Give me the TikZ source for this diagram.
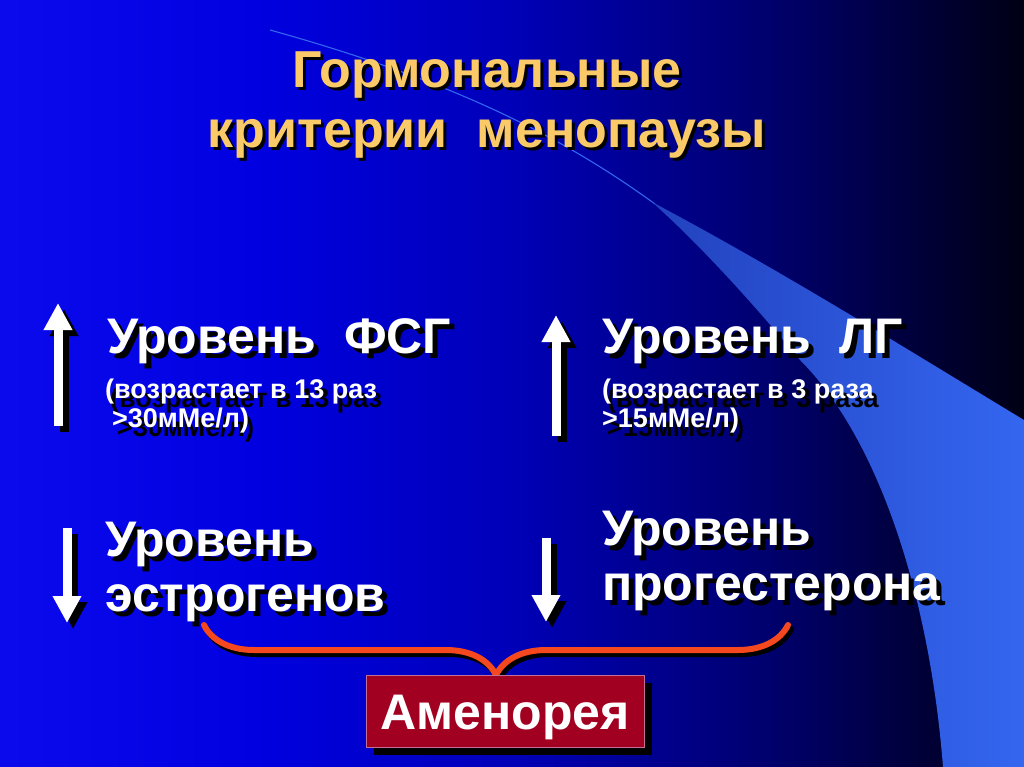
\documentclass[tikz,border=0pt]{standalone}
\usepackage{fontspec}
\setmainfont{Liberation Sans}
\usepackage{xcolor}
\usetikzlibrary{arrows.meta, decorations.pathreplacing, shadows}

\definecolor{swoosh}{RGB}{52,102,240}
\definecolor{swooshdark}{RGB}{34,66,190}
\definecolor{titlegold}{RGB}{250,202,105}
\definecolor{bracered}{RGB}{245,72,30}
\definecolor{boxred}{RGB}{162,0,32}
\definecolor{boxedge}{RGB}{195,110,150}
\pgfdeclarehorizontalshading{slidebg}{100bp}{rgb(0bp)=(0.04,0.04,0.93); rgb(25bp)=(0.04,0.04,0.93); rgb(37.5bp)=(0,0,0.88); rgb(50bp)=(0,0,0.72); rgb(62.5bp)=(0,0,0.43); rgb(75bp)=(0,0,0.08); rgb(100bp)=(0,0,0.08)}

\begin{document}
\begin{tikzpicture}[x=1pt, y=-1pt]
	\tikzstyle{head}=[anchor=base, align=center, inner sep=0pt, text=titlegold, font=\fontsize{52}{60}\selectfont\bfseries]
	\tikzstyle{big}=[anchor=base west, align=left, inner sep=0pt, text=white, font=\fontsize{50}{55}\selectfont\bfseries]
	\tikzstyle{small}=[anchor=base west, align=left, inner sep=0pt, text=white, font=\fontsize{27}{29}\selectfont\bfseries]
	\tikzstyle{shd}=[text=black, transform canvas={xshift=5pt, yshift=-5pt}]
	\tikzstyle{smallshd}=[text=black, transform canvas={xshift=5pt, yshift=-9pt}]
	\tikzstyle{arr}=[white, line width=9pt, -{Triangle[width=27pt, length=27pt]}]
	\tikzstyle{arrshd}=[black, transform canvas={xshift=6pt, yshift=-6pt}]
	\tikzstyle{braceline}=[bracered, line width=6pt, line cap=round, decorate, decoration={brace, mirror, amplitude=50pt}]
	\tikzstyle{amenbox}=[fill=boxred, draw=boxedge, line width=0.8pt, minimum width=278pt, minimum height=72pt, inner sep=0pt, text height=36pt, text depth=0pt, text=white, font=\fontsize{50}{55}\selectfont\bfseries, drop shadow={opacity=1, fill=black, shadow xshift=8pt, shadow yshift=-8pt}]
	
	\useasboundingbox (0,0) rectangle (1024,767);
	\shade[shading=slidebg] (0,0) rectangle (1024,767);
	
	% swoosh
	\draw[swoosh, line width=1.1pt] (270,30) .. controls (450,80) and (560,135) .. (655,204);
	\shade[left color=swooshdark, right color=swoosh] (652,202) .. controls (780,270) and (900,345) .. (1024,420) -- (1024,767) -- (943,767) .. controls (930,600) and (880,440) .. (800,360) .. controls (750,300) and (700,245) .. (652,202) -- cycle;
	
	% title
	\node[head, text=black, transform canvas={xshift=3pt, yshift=-3pt}] (title-s) at (487,148) {Гормональные\\критерии\ \ менопаузы};
	\node[head] (title) at (487,148) {Гормональные\\критерии\ \ менопаузы};
	
	% arrows
	\coordinate (fsgA) at (58,426);
	\coordinate (fsgB) at (58,303);
	\coordinate (lgA) at (556,436);
	\coordinate (lgB) at (556,315);
	\coordinate (estrA) at (67,528);
	\coordinate (estrB) at (67,623);
	\coordinate (progA) at (546,538);
	\coordinate (progB) at (546,622);
	\draw[arr, arrshd] (fsgA) -- (fsgB);
	\draw[arr] (fsgA) -- (fsgB);
	\draw[arr, arrshd] (lgA) -- (lgB);
	\draw[arr] (lgA) -- (lgB);
	\draw[arr, arrshd] (estrA) -- (estrB);
	\draw[arr] (estrA) -- (estrB);
	\draw[arr, arrshd] (progA) -- (progB);
	\draw[arr] (progA) -- (progB);
	
	% hormones
	\node[big, shd] (fsg-s) at (107,353) {Уровень\ \ ФСГ};
	\node[big] (fsg) at (107,353) {Уровень\ \ ФСГ};
	\node[small, smallshd] (fsgnote-s) at (105,427) {(возрастает в 13 раз\\\hspace*{7pt}>30мМе/л)};
	\node[small] (fsgnote) at (105,427) {(возрастает в 13 раз\\\hspace*{7pt}>30мМе/л)};
	\node[big, shd] (lg-s) at (602,353) {Уровень\ \ ЛГ};
	\node[big] (lg) at (602,353) {Уровень\ \ ЛГ};
	\node[small, smallshd] (lgnote-s) at (602,427) {(возрастает в 3 раза\\>15мМе/л)};
	\node[small] (lgnote) at (602,427) {(возрастает в 3 раза\\>15мМе/л)};
	\node[big, shd] (estr-s) at (105,611) {Уровень\\эстрогенов};
	\node[big] (estr) at (105,611) {Уровень\\эстрогенов};
	\node[big, shd] (prog-s) at (602,600) {Уровень\\прогестерона};
	\node[big] (prog) at (602,600) {Уровень\\прогестерона};
	
	% brace
	\coordinate (braceL) at (204,625);
	\coordinate (braceR) at (788,625);
	\draw[braceline, black, transform canvas={xshift=3pt, yshift=-4pt}] (braceL) -- (braceR);
	\draw[braceline] (braceL) -- (braceR);
	
	\node[amenbox] (amen) at (505,711) {Аменорея};
\end{tikzpicture}
\end{document}
